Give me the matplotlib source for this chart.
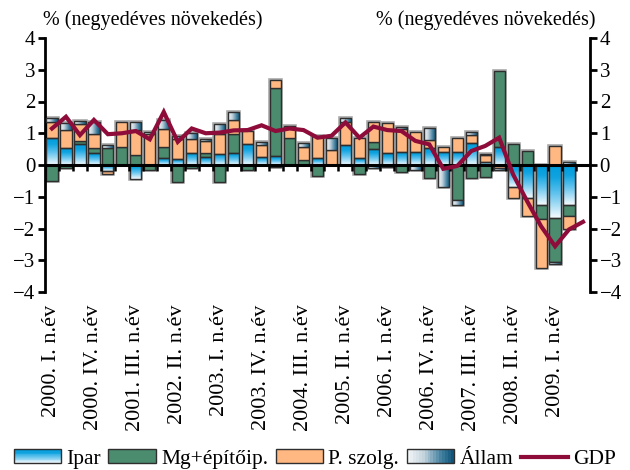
import numpy as np
import matplotlib
matplotlib.use("Agg")
import matplotlib.pyplot as plt
from matplotlib.colors import LinearSegmentedColormap
from matplotlib.patches import Rectangle
from matplotlib.lines import Line2D
from matplotlib.legend_handler import HandlerBase

plt.rcParams['font.family'] = ['Liberation Serif', 'DejaVu Serif']

# ---------------- data ----------------
quarters = ["2000. I. n.év", "2000. II. n.év", "2000. III. n.év", "2000. IV. n.év",
            "2001. I. n.év", "2001. II. n.év", "2001. III. n.év", "2001. IV. n.év",
            "2002. I. n.év", "2002. II. n.év", "2002. III. n.év", "2002. IV. n.év",
            "2003. I. n.év", "2003. II. n.év", "2003. III. n.év", "2003. IV. n.év",
            "2004. I. n.év", "2004. II. n.év", "2004. III. n.év", "2004. IV. n.év",
            "2005. I. n.év", "2005. II. n.év", "2005. III. n.év", "2005. IV. n.év",
            "2006. I. n.év", "2006. II. n.év", "2006. III. n.év", "2006. IV. n.év",
            "2007. I. n.év", "2007. II. n.év", "2007. III. n.év", "2007. IV. n.év",
            "2008. I. n.év", "2008. II. n.év", "2008. III. n.év", "2008. IV. n.év",
            "2009. I. n.év", "2009. II. n.év", "2009. III. n.év"]

ipar = [0.86, 0.52, 0.65, 0.39, -0.20, 0.00, -0.45, 0.00, 0.22, 0.18,
        0.39, 0.25, 0.36, 0.39, 0.65, 0.26, 0.28, 0.00, 0.00, 0.22,
        0.00, 0.62, 0.22, 0.49, 0.37, 0.42, 0.42, 0.53, 0.42, 0.42,
        0.68, 0.10, 0.58, -0.70, -1.05, -1.25, -1.68, -1.25]
mg_epito = [-0.50, -0.10, 0.11, 0.15, 0.54, 0.58, 0.33, -0.15, 0.36, -0.55,
            -0.10, 0.14, -0.55, 0.60, -0.15, 0.00, 2.16, 0.86, 0.16, -0.35,
            0.00, 0.00, -0.27, 0.24, -0.05, -0.22, 0.00, -0.40, 0.00, -1.10,
            -0.40, -0.37, 2.39, 0.65, 0.44, -0.45, -1.37, -0.35]
p_szolg = [0.50, 0.57, 0.52, 0.45, -0.09, 0.78, 0.76, 0.97, 0.55, 0.63,
           0.44, 0.37, 0.61, 0.42, 0.42, 0.36, 0.24, 0.32, 0.42, 0.70,
           0.47, 0.75, 0.64, 0.63, 0.95, 0.71, 0.63, 0.26, 0.16, 0.42,
           0.26, 0.21, -0.08, -0.35, -0.55, -1.55, 0.60, -0.40]
allam = [0.13, 0.22, 0.11, 0.38, 0.08, 0.00, 0.27, 0.07, 0.29, 0.11,
         0.19, 0.05, 0.31, 0.26, 0.00, 0.12, -0.05, 0.05, 0.10, 0.00,
         0.38, 0.12, 0.00, -0.08, 0.00, 0.08, -0.15, 0.39, -0.70, -0.15,
         0.11, 0.05, -0.07, 0.00, 0.00, 0.00, -0.07, 0.08]
gdp = [1.15, 1.52, 0.94, 1.42, 0.97, 1.00, 1.07, 0.81, 1.67, 0.73,
       1.15, 1.00, 1.02, 1.09, 1.10, 1.25, 1.07, 1.15, 1.10, 0.86,
       0.92, 1.34, 0.86, 1.21, 1.10, 1.07, 0.76, 0.65, -0.12, -0.03,
       0.44, 0.60, 0.86, -0.30, -1.14, -1.93, -2.56, -2.03, -1.79]

series_names = ["Ipar", "Mg+építőip.", "P. szolg.", "Állam"]
title_text = "% (negyedéves növekedés)"

# ---------------- styles ----------------
cmap_ipar = LinearSegmentedColormap.from_list(
    "ipar", [(0.0, "#f4fafd"), (0.45, "#62c3ee"), (0.75, "#10a4e0"), (1.0, "#009bdc")])
cmap_allam = LinearSegmentedColormap.from_list(
    "allam", [(0.0, "#f6f8fa"), (0.35, "#c3d3dd"), (0.75, "#3f7e9e"), (1.0, "#0b5175")])
green = "#4b8b6e"
orange = "#ffb881"
edge = "#2e2e2e"
gdp_color = "#8e0c3a"

fig = plt.figure(figsize=(6.3, 4.7), dpi=100)
ax = fig.add_axes([45 / 630, 1 - 292 / 470, 545 / 630, (292 - 38) / 470])

n_bar = len(ipar)
x = np.arange(n_bar)
width = 0.8

data = np.array([ipar, mg_epito, p_szolg, allam])
pos_base = np.zeros(n_bar)
neg_base = np.zeros(n_bar)
bottoms = np.zeros_like(data)
for i in range(data.shape[0]):
    v = data[i]
    b = np.where(v >= 0, pos_base, neg_base)
    bottoms[i] = b
    pos_base = pos_base + np.where(v >= 0, v, 0)
    neg_base = neg_base + np.where(v < 0, v, 0)

# grey halo around whole bars
for tot in (pos_base, neg_base):
    m = tot != 0
    ax.bar(x[m], tot[m], width=width, facecolor="none", edgecolor="#a8a8a8",
           linewidth=2.6, zorder=1.9)

styles = [("grad_v", cmap_ipar), ("solid", green), ("solid", orange), ("grad_h", cmap_allam)]
grad_v = np.linspace(0, 1, 64).reshape(-1, 1)
grad_h = np.linspace(0, 1, 64).reshape(1, -1)

for i, (kind, col) in enumerate(styles):
    v = data[i]
    m = v != 0
    if kind == "solid":
        ax.bar(x[m], v[m], bottom=bottoms[i][m], width=width, color=col,
               edgecolor=edge, linewidth=1.0, zorder=2)
    else:
        bars = ax.bar(x[m], v[m], bottom=bottoms[i][m], width=width, facecolor="none",
                      edgecolor=edge, linewidth=1.0, zorder=3)
        for r in bars:
            x0, y0 = r.get_x(), r.get_y()
            w, h = r.get_width(), r.get_height()
            ylo, yhi = min(y0, y0 + h), max(y0, y0 + h)
            img = grad_v if kind == "grad_v" else grad_h
            im = ax.imshow(img, cmap=col, extent=(x0, x0 + w, ylo, yhi), origin="lower",
                           aspect="auto", interpolation="bilinear", zorder=2)
            im.set_clip_path(r)

# zero line and category ticks
ax.axhline(0, color="black", linewidth=2.2, zorder=4)
ax.vlines(np.arange(-0.5, len(gdp) - 0.5, 1.0), -0.2, 0, color="black", linewidth=1.8, zorder=4)

# GDP line
xg = np.arange(len(gdp))
ax.plot(xg, gdp, color=gdp_color, linewidth=3.0, zorder=5, solid_joinstyle="miter")

ax.set_xlim(-0.5, len(gdp) - 0.5)
ax.set_ylim(-4, 4)
ax.set_yticks(range(-4, 5))

tick_idx = list(range(0, len(gdp), 3))[:13]
ax.set_xticks(tick_idx)
ax.set_xticklabels([quarters[i] for i in tick_idx], rotation=90, fontsize=16)
ax.tick_params(axis="x", length=0, pad=9)
ax.tick_params(axis="y", direction="out", length=5, width=2, labelsize=15,
               left=True, right=True, labelleft=True, labelright=True, pad=2)

for s in ("top", "bottom"):
    ax.spines[s].set_visible(False)
for s in ("left", "right"):
    ax.spines[s].set_linewidth(2)

fig.text(43 / 630, 1 - 20 / 470, title_text, ha="left", va="center", fontsize=14.5)
fig.text(596 / 630, 1 - 20 / 470, title_text, ha="right", va="center", fontsize=14.5)


# ---------------- legend ----------------
class GradHandler(HandlerBase):
    def __init__(self, cmap, vertical):
        super().__init__()
        self.cmap = cmap
        self.vertical = vertical

    def create_artists(self, legend, orig_handle, xdescent, ydescent, width, height,
                       fontsize, trans):
        arts = []
        n = 16
        for k in range(n):
            c = self.cmap((k + 0.5) / n)
            if self.vertical:
                r = Rectangle((-xdescent, -ydescent + k * height / n), width, height / n,
                              facecolor=c, edgecolor="none", transform=trans)
            else:
                r = Rectangle((-xdescent + k * width / n, -ydescent), width / n, height,
                              facecolor=c, edgecolor="none", transform=trans)
            arts.append(r)
        arts.append(Rectangle((-xdescent, -ydescent), width, height, facecolor="none",
                              edgecolor=edge, linewidth=1.0, transform=trans))
        return arts


h_ipar = Rectangle((0, 0), 1, 1)
h_allam = Rectangle((0, 0), 1, 1, facecolor="gray")
h_mg = Rectangle((0, 0), 1, 1, facecolor=green, edgecolor=edge, linewidth=1.0)
h_psz = Rectangle((0, 0), 1, 1, facecolor=orange, edgecolor=edge, linewidth=1.0)
h_gdp = Line2D([], [], color=gdp_color, linewidth=3.0)

fig.legend([h_ipar, h_mg, h_psz, h_allam, h_gdp], series_names + ["GDP"],
           loc="center", bbox_to_anchor=(0.5, 1 - 459 / 470), ncol=5, frameon=False,
           fontsize=15.5, handlelength=2.2, handleheight=0.6, handletextpad=0.25,
           columnspacing=0.35, borderaxespad=0, borderpad=0,
           handler_map={h_ipar: GradHandler(cmap_ipar, True),
                        h_allam: GradHandler(cmap_allam, False)})

fig.savefig("out.png", dpi=100)
